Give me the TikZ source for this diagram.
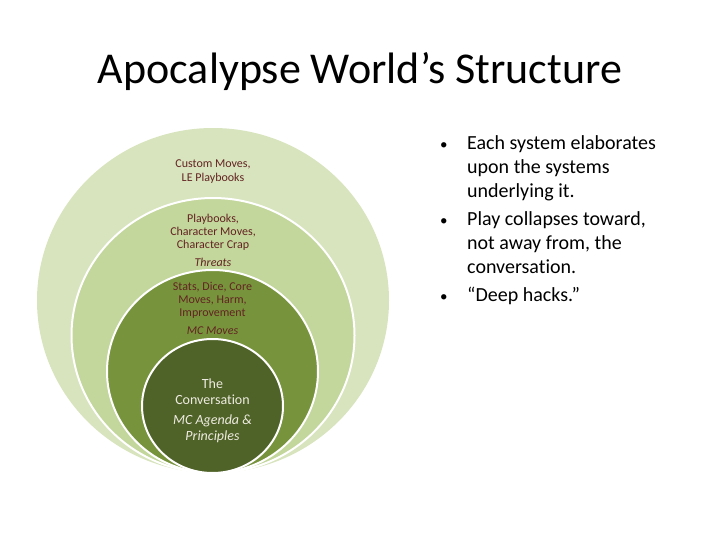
\documentclass[tikz,border=0pt]{standalone}
\usepackage{fontspec}
\setmainfont{Carlito}[Ligatures={TeX,NoCommon}]
\usetikzlibrary{shapes.geometric}
\usetikzlibrary{positioning}
\definecolor{ringouter}{HTML}{D7E4BD}
\definecolor{ringmid}{HTML}{C3D69B}
\definecolor{ringinner}{HTML}{77933C}
\definecolor{ringcore}{HTML}{4F6228}
\definecolor{ringlabel}{HTML}{632423}
\definecolor{corelabel}{HTML}{EEECE1}
\tikzset{layer ring/.style={ellipse, draw=white, line width=2pt, inner sep=0pt}}
\tikzset{layer label/.style={align=center, text=ringlabel, inner sep=0pt, font=\fontsize{12}{13}\selectfont}}
\tikzset{core label/.style={align=center, text=corelabel, inner sep=0pt, font=\fontsize{14}{15.5}\selectfont}}
\newcommand{\pointmark}{{\fontsize{15}{24}\selectfont\textbullet}}

\begin{document}
\begin{tikzpicture}[x=1pt, y=-1pt]
\useasboundingbox (0,0) rectangle (720,540);
\node[anchor=base, inner sep=0pt, font=\fontsize{44}{52}\selectfont] (title) at (360,84) {Apocalypse World’s Structure};
% nested systems
\node[layer ring, draw=none, fill=ringouter, minimum width=352pt, minimum height=345pt] (outer) at (213,300.5) {};
\node[layer ring, fill=ringmid, minimum width=283pt, minimum height=275pt] (mid) at (213,335.5) {};
\node[layer ring, fill=ringinner, minimum width=211pt, minimum height=203pt] (inner) at (212.5,371.5) {};
\node[layer ring, fill=ringcore, minimum width=141pt, minimum height=134pt] (core) at (212.5,406) {};
\node[layer label, below=33pt of outer.north] (outertext) {Custom Moves,\\[1pt]LE Playbooks};
\node[layer label, below=17pt of mid.north] (midtext) {Playbooks,\\Character Moves,\\Character Crap\\[5pt]\textit{Threats}};
\node[layer label, below=13pt of inner.north] (innertext) {Stats, Dice, Core\\Moves, Harm,\\Improvement\\[5pt]\textit{MC Moves}};
\node[core label, below=41pt of core.north] (coretext) {The\\Conversation\\[5pt]\textit{MC Agenda \&}\\\textit{Principles}};
% bullet points
\node[anchor=base west, inner sep=0pt, font=\fontsize{20}{24}\selectfont] (points) at (440,150) {%
\begin{tabular}[t]{@{}p{27pt}@{}l@{}}
\pointmark & Each system elaborates\\
 & upon the systems\\
 & underlying it.\\[4pt]
\pointmark & Play collapses toward,\\
 & not away from, the\\
 & conversation.\\[4pt]
\pointmark & “Deep hacks.”
\end{tabular}};
\end{tikzpicture}
\end{document}
